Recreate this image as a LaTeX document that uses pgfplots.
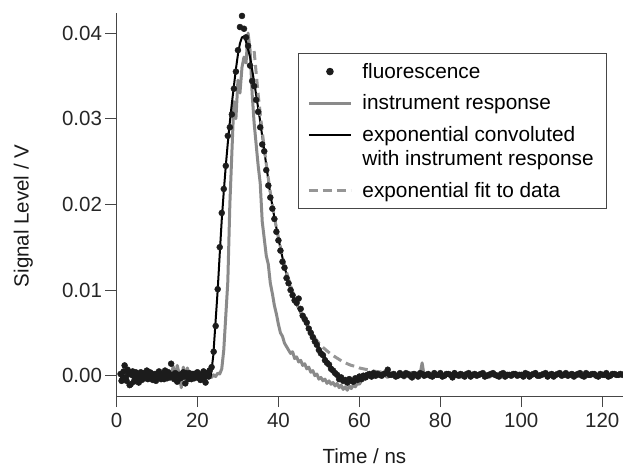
\documentclass[border=0pt]{standalone}
\usepackage{pgfplots}
\pgfplotsset{compat=1.18}
\usepackage{pgfplotstable}
\usepackage{fontspec}
\setmainfont{Liberation Sans}
\definecolor{instr}{RGB}{138,138,138}
\definecolor{fitc}{RGB}{150,150,150}
\definecolor{dotc}{RGB}{28,28,28}
\definecolor{axc}{RGB}{70,70,70}

\pgfplotstableread{
x y
1.0 0.0002
1.5 -0.0004
2.0 0.0012
2.5 -0.0006
3.0 0.0003
3.5 -0.0010
4.0 0.0005
4.5 -0.0002
5.0 0.0001
5.5 -0.0008
6.0 0.0004
6.5 0.0000
7.0 -0.0003
7.5 0.0006
8.0 -0.0001
8.5 0.0003
9.0 -0.0005
9.5 0.0002
10.0 -0.0002
10.5 0.0005
11.0 -0.0004
11.5 0.0001
12.0 0.0006
12.5 -0.0003
13.0 0.0002
13.5 0.0014
14.0 -0.0001
14.5 0.0003
15.0 -0.0007
15.5 0.0001
16.0 -0.0002
16.5 0.0004
17.0 -0.0009
17.5 0.0000
18.0 0.0003
18.5 -0.0004
19.0 0.0002
19.5 -0.0001
20.0 0.0004
20.5 -0.0003
21.0 0.0001
21.5 0.0005
22.0 -0.0008
22.5 0.0002
23.0 0.0006
23.5 0.0010
24.0 0.0028
24.5 0.0058
25.0 0.0101
25.5 0.0150
26.0 0.0190
26.5 0.0218
27.0 0.0245
27.5 0.0280
28.0 0.0290
28.5 0.0305
29.0 0.0335
29.5 0.0355
30.0 0.0380
30.5 0.0407
31.0 0.0420
31.5 0.0405
32.0 0.0395
32.5 0.0385
33.0 0.0362
33.5 0.0344
34.0 0.0338
34.5 0.0322
35.0 0.0308
35.5 0.0290
36.0 0.0270
36.5 0.0262
37.0 0.0240
37.5 0.0222
38.0 0.0208
38.5 0.0195
39.0 0.0183
39.5 0.0168
40.0 0.0158
40.5 0.0146
41.0 0.0133
41.5 0.0126
42.0 0.0114
42.5 0.0108
43.0 0.0100
43.5 0.0094
44.0 0.0088
44.5 0.0085
45.0 0.0090
45.5 0.0078
46.0 0.0070
46.5 0.0066
47.0 0.0062
47.5 0.0055
48.0 0.0050
48.5 0.0045
49.0 0.0040
49.5 0.0036
50.0 0.0030
50.5 0.0026
51.0 0.0024
51.5 0.0018
52.0 0.0015
52.5 0.0013
53.0 0.0008
53.5 0.0006
54.0 0.0003
54.5 0.0001
55.0 -0.0004
55.5 -0.0002
56.0 -0.0006
56.5 -0.0005
57.0 -0.0008
57.5 -0.0004
58.0 -0.0006
58.5 -0.0007
59.0 -0.0003
59.5 -0.0005
60.0 -0.0001
60.5 -0.0004
61.0 0.0000
61.5 -0.0002
62.0 0.0001
62.5 0.0002
63.0 -0.0001
63.5 0.0003
64.0 0.0000
64.5 0.0002
65.0 0.0001
66 0.0002
67 0.0007
68 0.0001
69 -0.0001
70 0.0003
71 0.0000
72 0.0002
73 -0.0002
74 0.0001
75 0.0003
76 0.0000
77 0.0002
78 -0.0001
79 0.0001
80 0.0003
81 0.0000
82 0.0002
83 -0.0002
84 0.0001
85 0.0002
86 -0.0001
87 0.0003
88 0.0001
89 0.0000
90 0.0002
91 -0.0001
92 0.0001
93 0.0003
94 0.0000
95 0.0002
96 -0.0001
97 0.0001
98 0.0002
99 0.0000
100 0.0001
101 0.0003
102 -0.0001
103 0.0002
104 0.0000
105 0.0001
106 0.0003
107 0.0001
108 -0.0001
109 0.0002
110 0.0000
111 0.0003
112 0.0001
113 -0.0001
114 0.0002
115 0.0000
116 0.0003
117 0.0001
118 0.0002
119 -0.0001
120 0.0001
121 0.0003
122 0.0000
123 0.0002
124 0.0001
125 0.0001
}\fluor

\pgfplotstableread{
x y
1.25 -0.0006
1.75 0.0005
2.25 -0.0002
2.75 0.0007
3.25 -0.0011
3.75 0.0001
4.25 -0.0007
4.75 0.0004
5.25 -0.0003
5.75 0.0002
6.25 -0.0005
6.75 0.0003
7.25 0.0000
7.75 -0.0004
8.25 0.0004
8.75 -0.0002
9.25 0.0001
9.75 -0.0006
10.25 0.0003
10.75 -0.0001
11.25 0.0002
11.75 -0.0004
12.25 0.0000
12.75 0.0004
13.25 -0.0002
13.75 0.0001
14.25 -0.0004
14.75 0.0002
15.25 0.0000
15.75 -0.0003
16.25 0.0002
16.75 -0.0001
17.25 0.0003
17.75 -0.0004
18.25 0.0000
18.75 0.0002
19.25 -0.0003
19.75 0.0003
20.25 0.0000
20.75 -0.0005
21.25 0.0002
21.75 -0.0002
22.25 0.0003
22.75 -0.0001
65.5 0.0000
66.5 0.0003
67.5 0.0001
68.5 0.0002
69.5 0.0000
70.5 0.0001
71.5 0.0003
72.5 0.0000
73.5 0.0002
74.5 -0.0001
75.5 0.0002
76.5 0.0001
77.5 0.0000
78.5 0.0003
79.5 0.0001
80.5 -0.0001
81.5 0.0002
82.5 0.0001
83.5 0.0003
84.5 0.0000
85.5 0.0001
86.5 0.0002
87.5 -0.0001
88.5 0.0002
89.5 0.0001
90.5 0.0003
91.5 0.0000
92.5 0.0002
93.5 0.0001
94.5 -0.0001
95.5 0.0003
96.5 0.0001
97.5 0.0000
98.5 0.0002
99.5 0.0001
100.5 -0.0001
101.5 0.0002
102.5 0.0001
103.5 0.0003
104.5 0.0000
105.5 0.0002
106.5 -0.0001
107.5 0.0002
108.5 0.0001
109.5 0.0003
110.5 0.0001
111.5 0.0000
112.5 0.0002
113.5 0.0001
114.5 0.0003
115.5 -0.0001
116.5 0.0001
117.5 0.0002
118.5 0.0000
119.5 0.0002
120.5 0.0001
121.5 -0.0001
122.5 0.0002
123.5 0.0001
124.5 0.0002
}\fluorB

\pgfplotstableread{
x y
1.0 0.0000
1.5 -0.0003
2.0 0.0002
2.5 -0.0005
3.0 0.0001
3.5 0.0004
4.0 -0.0002
4.5 0.0001
5.0 -0.0004
5.5 0.0003
6.0 0.0000
6.5 -0.0002
7.0 0.0005
7.5 -0.0001
8.0 0.0002
8.5 -0.0006
9.0 0.0001
9.5 0.0003
10.0 -0.0003
10.5 0.0000
11.0 0.0004
11.5 -0.0002
12.0 0.0001
12.5 -0.0004
13.0 0.0006
13.5 -0.0001
14.0 0.0011
14.5 -0.0003
15.0 0.0012
15.5 0.0002
16.0 -0.0014
16.5 0.0010
17.0 -0.0002
17.5 0.0009
18.0 0.0001
18.5 -0.0005
19.0 0.0003
19.5 -0.0001
20.0 0.0002
20.5 -0.0004
21.0 0.0001
21.5 0.0003
22.0 -0.0003
22.5 0.0000
23.0 0.0002
23.5 -0.0002
24.0 0.0001
24.5 -0.0001
25.0 0.0003
25.5 0.0002
26.0 0.0008
26.5 0.0030
27.0 0.0070
27.5 0.0110
28.0 0.0200
28.5 0.0260
29.0 0.0320
29.5 0.0300
30.0 0.0345
30.5 0.0330
31.0 0.0360
31.5 0.0372
32.0 0.0365
32.5 0.0400
33.0 0.0380
33.5 0.0330
34.0 0.0295
34.5 0.0270
35.0 0.0245
35.5 0.0225
36.0 0.0180
36.5 0.0160
37.0 0.0140
37.5 0.0130
38.0 0.0108
38.5 0.0096
39.0 0.0082
39.5 0.0072
40.0 0.0060
40.5 0.0050
41.0 0.0046
41.5 0.0038
42.0 0.0034
42.5 0.0030
43.0 0.0026
43.5 0.0028
44.0 0.0020
44.5 0.0022
45.0 0.0016
45.5 0.0018
46.0 0.0012
46.5 0.0014
47.0 0.0008
47.5 0.0010
48.0 0.0004
48.5 0.0006
49.0 0.0000
49.5 0.0002
50.0 -0.0004
50.5 -0.0002
51.0 -0.0006
51.5 -0.0004
52.0 -0.0009
52.5 -0.0006
53.0 -0.0010
53.5 -0.0008
54.0 -0.0012
54.5 -0.0009
55.0 -0.0014
55.5 -0.0011
56.0 -0.0016
56.5 -0.0013
57.0 -0.0017
57.5 -0.0012
58.0 -0.0015
58.5 -0.0011
59.0 -0.0013
59.5 -0.0009
60.0 -0.0010
60.5 -0.0006
61.0 -0.0005
61.5 -0.0002
62.0 -0.0003
62.5 0.0001
63.0 -0.0001
63.5 0.0002
64.0 0.0000
64.5 0.0002
65.0 -0.0001
66 0.0001
67 -0.0002
68 0.0003
69 0.0000
70 0.0002
71 -0.0003
72 0.0001
73 0.0004
74 -0.0001
75 0.0002
75.5 0.0015
76 0.0000
77 0.0003
78 -0.0002
79 0.0001
80 0.0002
81 -0.0001
82 0.0003
83 0.0000
84 0.0002
85 -0.0002
86 0.0001
87 0.0003
88 -0.0001
89 0.0002
90 0.0000
91 0.0003
92 -0.0002
93 0.0001
94 0.0002
95 -0.0001
96 0.0003
97 0.0000
98 0.0002
99 -0.0001
100 0.0001
101 0.0003
102 -0.0002
103 0.0001
104 0.0002
105 0.0000
106 0.0003
107 -0.0001
108 0.0001
109 0.0002
110 -0.0001
111 0.0003
112 0.0000
113 0.0002
114 -0.0001
115 0.0001
116 0.0003
117 -0.0001
118 0.0002
119 0.0000
120 0.0002
121 -0.0001
122 0.0001
123 0.0003
124 0.0000
125 0.0001
}\instrument

\pgfplotstableread{
x y
1 0.0000
23.3 0.0000
23.9 0.0023
24.5 0.0065
25.0 0.0100
25.5 0.0142
26.0 0.0182
26.5 0.0215
27.0 0.0245
27.5 0.0272
28.0 0.0296
28.5 0.0318
29.0 0.0338
29.5 0.0358
30.0 0.0375
30.5 0.0388
31.0 0.0395
31.5 0.0396
32.0 0.0390
33.0 0.0372
34.2 0.0337
35.4 0.0300
36.7 0.0256
37.9 0.0215
39.1 0.0182
40.4 0.0151
41.5 0.0127
42.8 0.0104
44 0.0088
45 0.0078
46 0.0068
47 0.0060
48 0.0050
49 0.0041
50 0.0033
51 0.0025
52 0.0018
53 0.0011
54 0.0004
55 -0.0002
56 -0.0005
57 -0.0007
58 -0.0007
59 -0.0005
60 -0.0003
61 -0.0001
62 0.0001
125 0.0001
}\conv

\pgfplotstableread{
x y
34 0.0379
35 0.0328
36 0.0285
37 0.0247
38 0.0214
39 0.0185
40 0.0161
41 0.0139
42 0.0121
43 0.0105
44 0.0091
45 0.0079
46 0.0068
47 0.0059
48 0.0051
49 0.0044
50 0.0038
51 0.0033
52 0.0029
53 0.0025
54 0.0022
55 0.0019
56 0.0016
57 0.0014
58 0.0012
59 0.0011
60 0.0009
62 0.0007
64 0.0005
66 0.0004
68 0.0003
70 0.0002
75 0.0001
80 0.0001
90 0.0000
125 0.0000
}\expfit

\begin{document}
\begin{tikzpicture}
\begin{axis}[
  scale only axis,
  width=506pt, height=383pt,
  xmin=0, xmax=125,
  ymin=-0.00237, ymax=0.04234,
  axis lines=left,
  axis line style={-, color=axc, line width=1pt},
  xtick={0,20,...,120},
  ytick={0,0.01,0.02,0.03,0.04},
  scaled y ticks=false,
  yticklabel style={/pgf/number format/fixed, /pgf/number format/fixed zerofill, /pgf/number format/precision=2},
  /pgf/number format/assume math mode=true,
  tick align=outside,
  major tick length=11pt,
  tick style={color=axc, line width=1pt},
  ticklabel style={font=\fontsize{20.5}{24}\selectfont, color=black!85},
  xticklabel style={yshift=-3pt},
  label style={font=\fontsize{20.5}{24}\selectfont, color=black!90},
  xlabel={Time / ns},
  ylabel={Signal Level / V},
  xlabel style={at={(axis description cs:0.49,-0.156)}, anchor=center},
  ylabel style={at={(axis description cs:-0.184,0.47)}, anchor=center, rotate=0},
  legend cell align=left,
  legend style={at={(0.3587,0.896)}, anchor=north west, draw=axc, line width=0.9pt,
    font=\fontsize{20.8}{24}\selectfont, inner xsep=9pt, inner ysep=9pt, row sep=13pt, column sep=6pt,
    nodes={align=left, inner xsep=4pt, inner ysep=1pt}},
  legend image code/.code={\draw[mark repeat=2,mark phase=2,#1] plot coordinates {(0pt,0pt) (21pt,0pt) (42pt,0pt)};},
]
\coordinate (ll) at (rel axis cs:0,0);
\coordinate (ur) at (rel axis cs:1,1);
\addlegendimage{only marks, mark=*, mark size=3.3pt, color=dotc}
\addlegendentry{fluorescence}
\addlegendimage{color=instr, line width=3pt}
\addlegendentry{instrument response}
\addlegendimage{color=black, line width=2pt, legend image code/.code={\draw[black, line width=2pt] (0pt,12pt) -- (42pt,12pt);}}
\addlegendentry{exponential convoluted\\with instrument response}
\addlegendimage{color=fitc, line width=3pt, dash pattern=on 9pt off 5pt}
\addlegendentry{exponential fit to data}

\addplot[forget plot, color=instr, line width=3pt, line join=round] table[x=x,y=y] {\instrument};
\addplot[forget plot, only marks, mark=*, mark size=3pt, color=dotc] table[x=x,y=y] {\fluor};
\addplot[forget plot, only marks, mark=*, mark size=3pt, color=dotc] table[x=x,y=y] {\fluorB};
\addplot[forget plot, color=black, line width=2pt, line join=round] table[x=x,y=y] {\conv};
\addplot[forget plot, color=fitc, line width=3pt, dash pattern=on 9pt off 5pt] table[x=x,y=y] {\expfit};
\end{axis}
\pgfresetboundingbox
\path ([shift={(-116.5pt,-70pt)}]ll) rectangle ([shift={(0.5pt,13pt)}]ur);
\end{tikzpicture}
\end{document}
